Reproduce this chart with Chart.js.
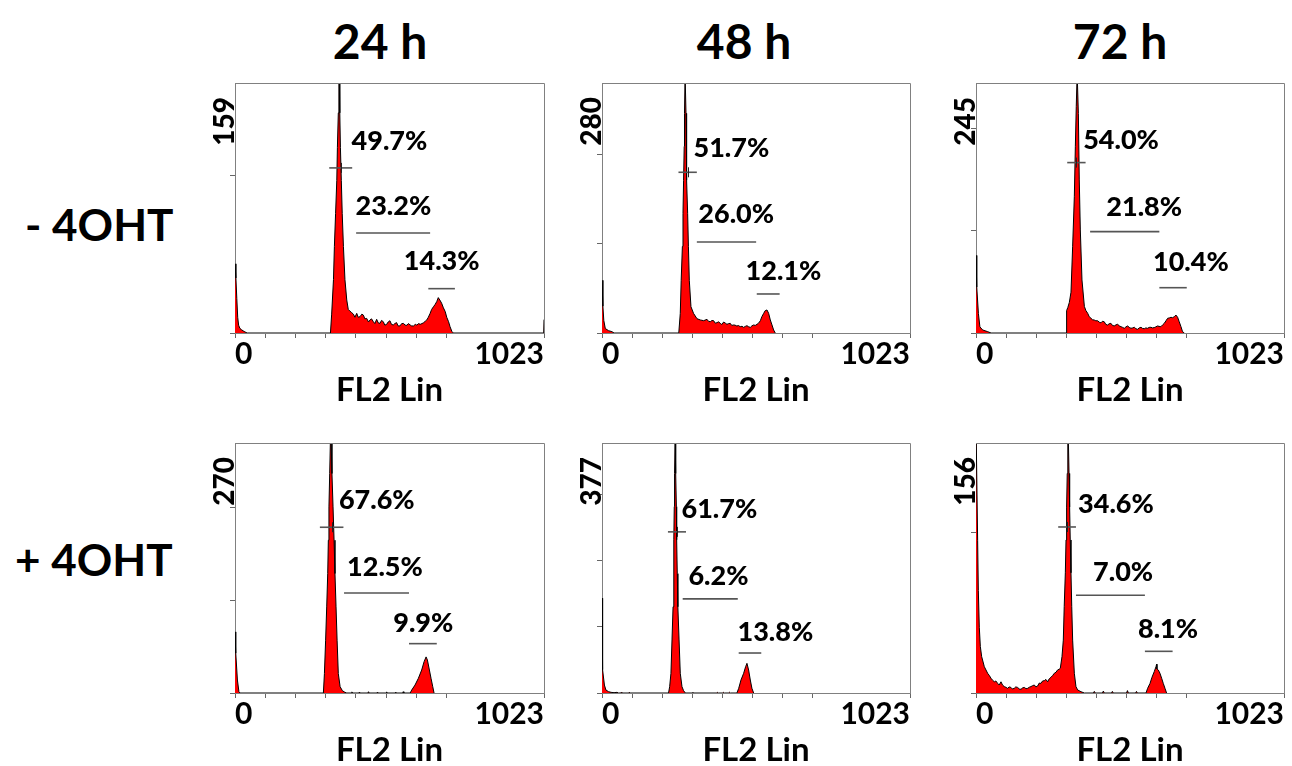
<!DOCTYPE html>
<html><head><meta charset="utf-8">
<script src="https://cdn.jsdelivr.net/npm/chart.js@4.4.1/dist/chart.umd.min.js"></script>
<style>
html,body{margin:0;padding:0;background:#fff;width:1292px;height:766px;overflow:hidden;font-family:Lato,sans-serif;}
.lbl{position:absolute;font-weight:700;color:#000;white-space:nowrap;line-height:1;}
canvas{position:absolute;}
</style></head><body>
<script>
// ---------- DATA ----------
const timeLabels = ['24 h', '48 h', '72 h'];
const rowLabels = ['- 4OHT', '+ 4OHT'];
const axisTitle = 'FL2 Lin';
const xTickLabels = ['0', '1023'];
const xTickValues = [0, 100, 200, 300, 400, 500, 600, 700, 1023];
const yTickValues = [0, 100, 200, 300];
const yMaxes = [159, 280, 245, 270, 377, 156];

// histograms: [channel, count]
const hist_m24 = [[0,44],[3,35],[6,22],[9,10],[12,5],[16,3],[22,2],[30,1],[40,0],
[316,0],[320,12],[326,34],[329,55],[333,76],[337,97],[339,118],[342,140],[344,170],[345,170],[347,140],[349,118],[352,97],[355,76],[359,55],[364,34],[370,21],[375,15],[380,14],[386,13],[392,12],[397,10],[403,12.5],[408,10],[414,10.4],[420,12],[425,11.4],[430,9],[436,9.3],[442,7],[447,8.3],[452,9],[458,7.2],[463,6],[469,8.7],[474,6.5],[480,6.1],[485,8],[491,7.2],[496,5],[502,5.5],[507,7],[513,7.8],[518,5.5],[524,5.1],[529,6],[535,6.6],[540,4.5],[546,4.5],[552,6],[558,6.1],[563,5],[569,4.9],[574,6],[580,5.1],[585,4.5],[591,4.5],[597,5.5],[602,5],[608,6],[613,5.5],[619,6],[624,6.5],[630,7.5],[635,8.3],[640,10],[646,12.5],[651,15],[657,16.7],[662,18],[668,20],[673,22.5],[678,21],[684,19],[690,16],[696,13.6],[701,10],[707,7.2],[712,4],[718,1],[723,0],[1022,0],[1023,8.5]];
const hist_m48 = [[0,59],[3,30],[6,14],[11,5],[22,2.6],[33,1.5],[40,0],
[255,0],[260,22],[263,59],[267,97],[269,134],[271,171],[273,209],[274,246],[276,290],[278,290],[279,246],[280,209],[282,171],[284.5,134],[287,97],[290,59],[295.5,29.5],[304,22],[315.5,16],[326.6,14.6],[337.6,13.8],[348.7,15.3],[354,13],[359.8,12.7],[365,14],[370.8,13.8],[376,11],[381.9,11.6],[387,12.5],[393,10.8],[398,9.5],[404,12.3],[410,11],[415,9.7],[420,10.5],[426,10.8],[431,8.5],[437,9],[442,8.8],[448,7.8],[453,8.4],[459,7.1],[465,7.5],[470.5,6.3],[476,7.4],[481.5,8.2],[487,7],[492.6,6.3],[498,8],[503.7,9],[509,8.5],[514.8,9.7],[520,11],[526,13.8],[531,18.3],[537,22],[542,25],[548,25.8],[553.5,22],[559,14.6],[564.6,9],[570,3.4],[575.5,0]];
const hist_m72 = [[0,76],[2,60],[3,45],[8,19],[13,6],[22,3],[39,1.3],[50,0],
[299,0],[301,22],[305,25],[310,30],[315.5,40],[321,85],[326.6,134],[330,183],[333,222],[336,255],[337,255],[340,215],[343,150],[346.5,101],[352,52],[360,26],[365,22],[371,19.3],[376,16],[382,14.4],[387,13],[393,12.7],[398,12],[404,12],[410,10.5],[415,10],[420,11.5],[426,11],[431,8.5],[437,7.8],[442,9],[448,9.5],[453,7.5],[459,6.9],[465,8],[470.5,8.5],[476,7],[481.5,6.2],[487,5.5],[492.6,4.6],[498,6],[503.7,6.9],[509,5.5],[514.8,4.6],[520,5],[526,5.6],[531,4.2],[537,3.6],[542,5],[548,5.6],[553,4.5],[559,4.2],[564,5],[570,4.6],[575,5.5],[581,5.6],[586,5],[592,5.3],[597,6],[603,6.9],[608,6.5],[614,6.2],[620,8],[625.5,9.5],[631,12],[636.5,14.4],[642,14.8],[647.6,15.4],[653,15],[658.7,16],[664,17.6],[669.7,15.4],[675,11],[680.8,6.2],[686,1.3],[692,0]];
const hist_p24 = [[0,66],[2,50],[3,43],[8,14],[13,1.4],[17,0],
[292.6,0],[296,21],[300,57],[303.6,93],[307,129],[309,165],[311,201],[313.5,237],[316,275],[318,275],[321,237],[324.6,201],[328,165],[331,129],[334.5,93],[338,57],[342,21],[348,6.8],[355.5,2.5],[364,0.7],[370,0],
[385,0],[387,1.2],[389,0],[410,0],[412,1],[414,0],[440,0],[442,1.4],[444,0],[470,0],[472,1],[474,0],[500,0],[502,1.2],[504,0],[530,0],[532,1],[534,0],[555,0],[557,1.4],[559,0],
[580,0],[585,3.2],[596,8.6],[607,15.8],[618,24.8],[626,33.8],[632.6,39],[637,35.6],[643.6,24.8],[649,15.8],[654.7,6.8],[659,0]];
const hist_p48 = [[0,143],[1,80],[3,35],[8,12],[13,4.5],[22,2],[30,1],[40,0.5],[50,1],[55,0],[62,0],[65,1.5],[68,0],[88,0],[90,1],[93,0],
[221,0],[224.7,9.5],[229,29.7],[232.5,80],[236,130],[238,180],[239,231],[240,281],[241,331],[243,390],[244,390],[245.5,331],[247,281],[248,231],[250,180],[252,130],[256,80],[260,29.7],[265.7,9.5],[271,3.5],[277,0],
[300,0],[302,1],[304,0],[380,0],[383,1],[386,0],[400,0],[403,1],[406,0],[420,0],[423,1.2],[426,0],
[448,0],[454,7],[461.6,19.6],[470.5,29.7],[477,39.7],[481.5,44.7],[487,34.7],[492.6,19.6],[498,7],[503.7,0]];
const hist_p72 = [[0,170],[2,170],[5.5,95],[7.7,64],[11,41],[14.4,29],[18.8,22.7],[27.7,16.4],[38.7,12.3],[44,11],[49.8,9.2],[55,8],[61,7],[66,7.5],[72,6],[77,5],[83,7],[88,5],[94,4],[100,3.5],[105,2.9],[110,3.8],[116,3.5],[121,2.5],[127,2.9],[132,3.8],[138,3.5],[144,2.5],[149.4,2.3],[155,3.2],[160.5,3.5],[166,2.7],[171.6,2.9],[177,3.6],[182.6,4],[188,4.6],[193.7,5],[199,3.8],[204.8,4.4],[210,6.2],[216,6],[221,7.5],[227,7.7],[232,8.5],[238,7],[243,8.8],[249,9.8],[255,11],[260,12.3],[266,13],[271,14.4],[276,14.8],[280,15.4],[285.6,22.7],[290,33],[293,54],[296.7,75],[299,95.5],[301,116],[303,137],[305,165],[306,165],[309,137],[311,116],[313,95.5],[315.5,75],[318,54],[321,33],[326.6,12.3],[332,4],[337.6,1.9],[348.7,0.8],[360,0],
[390,0],[393,1],[396,0],[420,0],[423,1.2],[426,0],[450,0],[453,1],[456,0],[500,0],[503,1.5],[506,0],[530,0],[533,1],[536,0],
[564.6,0],[570,2.9],[578,6],[584.5,9.8],[592,13.3],[597.8,16.4],[600,18],[601,15],[605.5,14.4],[611,12.3],[616.6,9.2],[622,6],[627.7,2.9],[633,0]];

// gates: [start channel, end channel, level]  (G1, S, G2/M)
const gates_m24 = [[312,388,105],[401,646,63.6],[640,728,28.2]];
const gates_m48 = [[254,315,180],[315,512,102],[514,590,43.7]];
const gates_m72 = [[303,364,167],[379,609,99.3],[609,700,44.4]];
const gates_p24 = [[281,359,179],[361,576,108],[576,668,53.3]];
const gates_p48 = [[219,279,243],[268,451,142],[454,529,60.3]];
const gates_p72 = [[273,332,103.6],[332,561,61],[561,653,26]];

// gate percentages and their anchor (channel, count)
const pct_m24 = ['49.7%','23.2%','14.3%'];
const pct_m48 = ['51.7%','26.0%','12.1%'];
const pct_m72 = ['54.0%','21.8%','10.4%'];
const pct_p24 = ['67.6%','12.5%','9.9%'];
const pct_p48 = ['61.7%','6.2%','13.8%'];
const pct_p72 = ['34.6%','7.0%','8.1%'];
const pctAt_m24 = [[386,122],[399,80.6],[559,45.6]];
const pctAt_m48 = [[304,207],[320,132.5],[477,69]];
const pctAt_m72 = [[356,188.8],[433,123.5],[588,69]];
const pctAt_p24 = [[344,208],[371,136],[524,75]];
const pctAt_p48 = [[264,277],[287,175.4],[450,92]];
const pctAt_p72 = [[339,118],[389,75.5],[538,39.5]];

// ---------- LAYOUT ----------
const FONT = 'Lato';
const plotL = [235, 602, 976], plotW = [309, 308, 308], plotT = [83, 443], PLOT_H = 250;
const AXW = 40, PADT = 8, PADR = 8, AXH = 77;

const panels = [
  {hist: hist_m24, gates: gates_m24, pct: pct_m24, at: pctAt_m24},
  {hist: hist_m48, gates: gates_m48, pct: pct_m48, at: pctAt_m48},
  {hist: hist_m72, gates: gates_m72, pct: pct_m72, at: pctAt_m72},
  {hist: hist_p24, gates: gates_p24, pct: pct_p24, at: pctAt_p24},
  {hist: hist_p48, gates: gates_p48, pct: pct_p48, at: pctAt_p48},
  {hist: hist_p72, gates: gates_p72, pct: pct_p72, at: pctAt_p72}
];

function addLabel(text, css) {
  const d = document.createElement('div');
  d.className = 'lbl';
  d.textContent = text;
  Object.assign(d.style, css);
  document.body.appendChild(d);
}
const titleCX = [380, 744, 1120];
timeLabels.forEach((t, i) => addLabel(t, {fontSize: '48px', left: titleCX[i] + 'px', top: '17px', transform: 'translateX(-50%)'}));
addLabel(rowLabels[0], {fontSize: '44px', left: '25px', top: '202px'});
addLabel(rowLabels[1], {fontSize: '44px', left: '15px', top: '537px'});

function makeChart(i) {
  const col = i % 3, row = Math.floor(i / 3);
  const P = panels[i];
  const yMax = yMaxes[i];
  const w = plotW[col] + AXW + PADR, h = PLOT_H + PADT + AXH;
  const canvas = document.createElement('canvas');
  canvas.width = w; canvas.height = h;
  canvas.style.width = w + 'px'; canvas.style.height = h + 'px';
  canvas.style.left = (plotL[col] - AXW) + 'px';
  canvas.style.top = (plotT[row] - PADT) + 'px';
  document.body.appendChild(canvas);

  const datasets = P.gates.map(g => ({
    data: [{x: g[0], y: g[2]}, {x: g[1], y: g[2]}],
    borderColor: '#555', borderWidth: 1.6, pointRadius: 0, fill: false, order: 0
  }));
  datasets.push({
    data: P.hist.map(p => ({x: p[0], y: p[1]})),
    borderColor: '#000', borderWidth: 1, backgroundColor: '#ff0000',
    fill: 'origin', pointRadius: 0, tension: 0, order: 1
  });

  const annot = {
    id: 'annot',
    afterDraw(chart) {
      const {ctx, chartArea: a, scales: {x, y}} = chart;
      ctx.save();
      // frame top/right
      ctx.strokeStyle = '#808080'; ctx.lineWidth = 1;
      ctx.beginPath();
      const t = Math.round(a.top) + 0.5, r = Math.round(a.right) + 0.5;
      ctx.moveTo(Math.round(a.left), t); ctx.lineTo(r, t); ctx.lineTo(r, Math.round(a.bottom));
      ctx.stroke();
      // G1 centre tick
      const g = P.gates[0];
      const cx = Math.round(x.getPixelForValue((g[0] + g[1]) / 2)) + 0.5;
      const cy = y.getPixelForValue(g[2]);
      ctx.strokeStyle = '#222'; ctx.lineWidth = 1;
      ctx.beginPath(); ctx.moveTo(cx, cy - 5); ctx.lineTo(cx, cy + 5); ctx.stroke();
      // percentages
      ctx.fillStyle = '#000';
      ctx.font = '900 27px ' + FONT;
      ctx.textAlign = 'left'; ctx.textBaseline = 'middle';
      P.pct.forEach((s, k) => ctx.fillText(s, x.getPixelForValue(P.at[k][0]), y.getPixelForValue(P.at[k][1])));
      // max count label (rotated)
      ctx.font = '900 28px ' + FONT;
      ctx.translate(a.left - 1, a.top + 14);
      ctx.rotate(-Math.PI / 2);
      ctx.textAlign = 'right'; ctx.textBaseline = 'alphabetic';
      ctx.fillText(String(yMax), 0, 0);
      ctx.restore();
    }
  };

  new Chart(canvas, {
    type: 'line',
    data: {datasets},
    options: {
      responsive: false, animation: false, devicePixelRatio: 1,
      layout: {padding: {left: 0, top: PADT, right: PADR, bottom: 0}},
      plugins: {legend: {display: false}, tooltip: {enabled: false}},
      scales: {
        x: {
          type: 'linear', min: 0, max: 1023,
          afterBuildTicks: s => { s.ticks = xTickValues.map(v => ({value: v})); },
          afterFit: s => { s.height = AXH; },
          grid: {drawOnChartArea: false, drawTicks: true, tickLength: 5, color: '#666'},
          border: {color: '#808080', width: 1},
          ticks: {
            autoSkip: false, maxRotation: 0, minRotation: 0, align: 'inner', padding: 1,
            color: '#000', font: {family: FONT, weight: 'bold', size: 30, lineHeight: 1},
            callback: v => v === 0 ? xTickLabels[0] : (v === 1023 ? xTickLabels[1] : '')
          },
          title: {display: true, text: axisTitle, color: '#000',
                  font: {family: FONT, weight: 'bold', size: 33, lineHeight: 1.2},
                  padding: {top: 0, bottom: 0}}
        },
        y: {
          min: 0, max: yMax,
          afterBuildTicks: s => { s.ticks = yTickValues.filter(v => v < yMax).map(v => ({value: v})); },
          afterFit: s => { s.width = AXW; },
          grid: {drawOnChartArea: false, drawTicks: true, tickLength: 5, color: '#666'},
          border: {color: '#808080', width: 1},
          ticks: {display: false}
        }
      }
    },
    plugins: [annot]
  });
}
for (let i = 0; i < 6; i++) makeChart(i);
</script>
</body></html>
